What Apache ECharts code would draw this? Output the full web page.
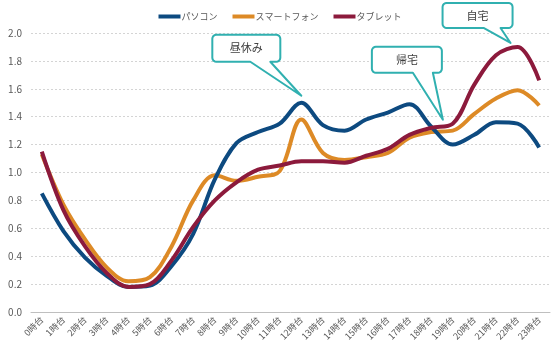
<!DOCTYPE html>
<html>
<head>
<meta charset="utf-8">
<script src="https://cdn.jsdelivr.net/npm/echarts@6/dist/echarts.min.js"></script>
<style>
  html, body { margin: 0; padding: 0; background: #fff; }
  #chart { width: 560px; height: 352px; }
</style>
</head>
<body>
<div id="chart"></div>
<script>
const hours = ['0時台', '1時台', '2時台', '3時台', '4時台', '5時台', '6時台', '7時台', '8時台', '9時台', '10時台', '11時台',
  '12時台', '13時台', '14時台', '15時台', '16時台', '17時台', '18時台', '19時台', '20時台', '21時台', '22時台', '23時台']

const pc = [0.85, 0.58, 0.39, 0.26, 0.18, 0.19, 0.33, 0.56, 0.95, 1.21, 1.29, 1.35,
  1.50, 1.34, 1.30, 1.38, 1.43, 1.49, 1.33, 1.20, 1.27, 1.36, 1.35, 1.18]
const smartphone = [1.13, 0.77, 0.52, 0.32, 0.22, 0.25, 0.47, 0.80, 0.98, 0.94, 0.97, 1.01,
  1.38, 1.14, 1.09, 1.11, 1.14, 1.25, 1.29, 1.30, 1.42, 1.53, 1.59, 1.48]
const tablet = [1.15, 0.73, 0.47, 0.28, 0.18, 0.20, 0.37, 0.61, 0.80, 0.93, 1.02, 1.05,
  1.08, 1.08, 1.07, 1.12, 1.17, 1.27, 1.32, 1.35, 1.63, 1.84, 1.90, 1.66]

const seriesNames = ['パソコン', 'スマートフォン', 'タブレット']
const seriesColors = ['#0d4a80', '#dd8a26', '#8c1a3c']

// callouts: text, series, category index (or pair), tip offset, box offsets from tip
const callouts = [
  { text: '昼休み', series: 0, idx: [12], tip: [0, -7], box: [-89, -61, 68, 27], tail: [-51, -31] },
  { text: '帰宅', series: 2, idx: [18, 19], tip: [1, -6], box: [-71, -73, 70, 26], tail: [-30, -10] },
  { text: '自宅', series: 2, idx: [22], tip: [-7, -4], box: [-68, -40, 70, 25], tail: [-27, -10] },
]

const font = '"Noto Sans CJK JP", "Noto Sans", sans-serif'
const chart = echarts.init(document.getElementById('chart'), null, { renderer: 'canvas' })

const data = [pc, smartphone, tablet]

chart.setOption({
  animation: false,
  textStyle: { fontFamily: font },
  legend: {
    top: 7,
    left: 'center',
    itemWidth: 22,
    itemHeight: 4,
    itemGap: 15,
    icon: 'rect',
    textStyle: { color: '#595959', fontSize: 9, padding: [0, 0, 0, -4] },
    data: seriesNames,
  },
  grid: { left: 31, right: 10, top: 33, bottom: 40 },
  xAxis: {
    type: 'category',
    data: hours,
    boundaryGap: true,
    axisLine: { lineStyle: { color: '#bfbfbf' } },
    axisTick: { length: 4, lineStyle: { color: '#bfbfbf' } },
    axisLabel: { rotate: 45, color: '#595959', fontSize: 9, interval: 0, margin: 6 },
  },
  yAxis: {
    type: 'value',
    min: 0,
    max: 2,
    interval: 0.2,
    axisLine: { show: false },
    axisTick: { show: false },
    axisLabel: { color: '#595959', fontSize: 10, margin: 9, formatter: (v) => v.toFixed(1) },
    splitLine: { lineStyle: { color: '#d4d4d4', type: [2, 2] } },
  },
  series: seriesNames.map((name, i) => ({
    name,
    type: 'line',
    data: data[i],
    smooth: 0.35,
    symbol: 'none',
    z: 3 + (i === 1 ? 0 : i === 0 ? 1 : 2),
    itemStyle: { color: seriesColors[i] },
    lineStyle: { width: 4, color: seriesColors[i] },
  })),
})

// outline of a rounded box with a pointer on its bottom edge
function calloutPoints(x, y, w, h, r, t1, t2, tx, ty) {
  const pts = []
  const arc = (cx, cy, a0) => {
    for (let k = 0; k <= 4; k++) {
      const a = a0 + (k / 4) * Math.PI / 2
      pts.push([cx + r * Math.cos(a), cy + r * Math.sin(a)])
    }
  }
  arc(x + r, y + r, Math.PI)
  arc(x + w - r, y + r, -Math.PI / 2)
  arc(x + w - r, y + h - r, 0)
  pts.push([t2, y + h], [tx, ty], [t1, y + h])
  arc(x + r, y + h - r, Math.PI / 2)
  return pts
}

const elements = callouts.map((c) => {
  const pts = c.idx.map((k) => chart.convertToPixel({ seriesIndex: c.series }, [k, data[c.series][k]]))
  const px = pts.reduce((s, p) => s + p[0], 0) / pts.length
  const py = pts.reduce((s, p) => s + p[1], 0) / pts.length
  const tx = px + c.tip[0]
  const ty = py + c.tip[1]
  const bx = tx + c.box[0]
  const by = ty + c.box[1]
  const bw = c.box[2]
  const bh = c.box[3]
  return {
    type: 'group',
    z: 100,
    children: [
      {
        type: 'polygon',
        shape: { points: calloutPoints(bx, by, bw, bh, 4, tx + c.tail[0], tx + c.tail[1], tx, ty) },
        style: { fill: '#fff', stroke: '#30b0b0', lineWidth: 2, lineJoin: 'round' },
      },
      {
        type: 'text',
        x: bx + bw / 2,
        y: by + bh / 2,
        style: { text: c.text, fill: '#404040', font: `11px ${font}`, align: 'center', verticalAlign: 'middle' },
      },
    ],
  }
})

chart.setOption({ graphic: { elements } })
</script>
</body>
</html>
